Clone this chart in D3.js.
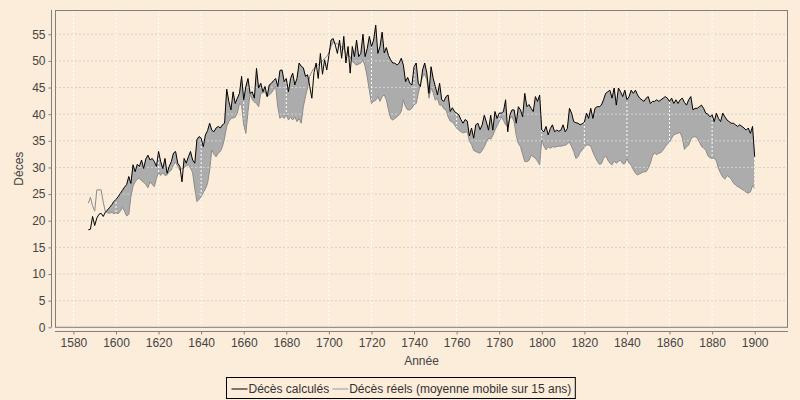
<!DOCTYPE html>
<html lang="fr">
<head>
<meta charset="UTF-8">
<title>Décès calculés et réels</title>
<script src="https://cdn.jsdelivr.net/npm/d3@7"></script>
<style>
  body { margin: 0; background: #fcecda; }
  svg { display: block; font-family: "Liberation Sans", Arial, sans-serif; }
  .axe path, .axe line { stroke: #808080; }
  .axe text { fill: #444; font-size: 12px; }
  .titre-axe { fill: #444; font-size: 12px; }
  .legende text { fill: #333; font-size: 12px; }
</style>
</head>
<body>
<svg id="graphique" width="800" height="400"></svg>
<script>
// années 1587 -> 1900, une valeur par an
const premiereAnnee = 1587;

const decesCalcules = [
  18.3, 18.4, 20.8, 19.1, 20.5, 21.2, 21.4, 20.8, 21.6, 22.0,
  22.5, 23.0, 23.6, 24.0, 24.5, 25.1, 25.7, 26.3, 26.8, 28.3,
  27.0, 30.5, 29.2, 30.6, 30.2, 31.4, 29.8, 31.6, 32.3, 31.4,
  31.7, 31.1, 30.2, 33.0, 31.1, 29.8, 31.7, 28.9, 30.2, 31.1,
  32.7, 33.0, 30.8, 30.2, 27.3, 31.7, 30.8, 32.0, 33.0, 31.4,
  30.8, 35.2, 35.8, 35.5, 33.9, 36.1, 36.9, 38.3, 37.0, 36.7,
  37.4, 37.7, 37.4, 38.0, 38.3, 44.7, 42.4, 40.8, 44.2, 42.0,
  43.0, 43.9, 47.1, 42.7, 45.2, 46.7, 43.9, 44.2, 43.0, 48.6,
  44.9, 45.8, 44.2, 45.2, 43.3, 45.5, 45.8, 46.3, 46.7, 45.2,
  48.2, 48.3, 46.1, 46.7, 44.2, 46.7, 47.7, 45.5, 46.7, 49.6,
  49.0, 48.7, 47.1, 47.4, 45.2, 43.0, 47.8, 49.6, 46.7, 51.4,
  47.5, 50.2, 48.3, 51.0, 53.9, 54.2, 53.0, 51.4, 53.9, 50.5,
  54.6, 49.6, 52.7, 47.7, 52.7, 50.8, 53.9, 50.8, 51.4, 55.0,
  50.8, 52.3, 54.6, 52.7, 53.9, 56.7, 51.4, 52.7, 55.4, 51.5,
  52.5, 51.0, 50.2, 49.6, 49.6, 49.2, 49.6, 50.5, 49.2, 46.1,
  46.9, 45.8, 45.5, 48.9, 49.6, 45.8, 45.2, 48.3, 49.6, 47.7,
  43.9, 48.9, 46.7, 45.2, 43.6, 45.8, 42.7, 42.4, 43.3, 43.6,
  40.5, 41.2, 40.5, 40.2, 39.9, 39.0, 38.3, 39.0, 38.7, 35.9,
  37.4, 35.5, 38.0, 38.3, 37.1, 38.0, 39.8, 38.5, 37.0, 39.8,
  37.0, 40.5, 39.2, 40.2, 40.2, 40.5, 42.7, 36.7, 39.8, 40.8,
  40.8, 38.3, 41.4, 40.8, 39.5, 43.9, 41.4, 41.8, 41.1, 40.5,
  43.3, 42.4, 43.6, 37.0, 36.7, 37.7, 36.1, 37.3, 38.0, 36.7,
  37.0, 36.8, 37.0, 38.0, 36.7, 37.3, 41.1, 40.2, 38.6, 38.4,
  38.3, 38.0, 38.2, 38.5, 40.2, 39.2, 41.1, 39.2, 41.1, 41.4,
  41.4, 41.7, 42.7, 43.9, 44.2, 44.5, 43.0, 44.9, 41.7, 44.9,
  44.2, 43.3, 44.5, 42.7, 43.3, 44.5, 43.9, 44.5, 43.6, 43.0,
  42.7, 42.4, 43.0, 43.3, 42.0, 42.4, 42.4, 42.7, 42.4, 42.7,
  43.0, 43.3, 43.0, 42.4, 43.0, 42.0, 42.7, 42.0, 42.7, 43.0,
  42.2, 41.7, 42.7, 43.3, 40.8, 41.1, 41.1, 41.4, 41.7, 41.1,
  40.2, 40.0, 39.5, 39.9, 38.6, 40.2, 39.2, 38.6, 40.2, 39.5,
  38.9, 38.6, 38.3, 38.3, 38.0, 37.7, 38.0, 37.7, 37.4, 37.0,
  37.4, 36.4, 37.7, 32.0
];

// moyenne mobile sur 15 ans
const decesReels = [
  23.3, 24.4, 22.8, 21.8, 25.8, 25.8, 25.8, 23.5, 21.7, 21.5,
  21.4, 21.6, 21.3, 21.5, 21.3, 21.8, 22.5, 21.8, 20.9, 21.2,
  24.5, 26.5, 27.3, 27.8, 28.0, 27.5, 27.2, 26.8, 26.2, 27.3,
  26.8, 26.4, 28.0, 29.0, 28.5, 29.0, 28.5, 28.6, 29.2, 29.5,
  30.5, 31.0, 30.2, 29.5, 29.8, 30.0, 30.3, 30.5, 29.9, 29.0,
  26.0, 23.6, 24.0, 24.5, 25.3, 26.0, 27.0, 29.5, 33.3, 32.5,
  32.0, 32.7, 33.0, 33.9, 35.5, 37.7, 38.6, 39.2, 39.3, 39.4,
  40.2, 42.0, 41.7, 38.0, 36.4, 40.5, 43.9, 42.7, 42.3, 42.0,
  41.4, 43.9, 44.0, 44.2, 43.3, 43.6, 44.0, 44.6, 45.2, 41.4,
  39.2, 39.6, 39.2, 39.9, 38.9, 39.5, 38.9, 39.5, 38.6, 39.2,
  38.3, 41.4, 43.3, 45.0, 47.1, 48.0, 48.6, 48.9, 49.3, 49.6,
  50.0, 50.5, 50.8, 51.5, 52.7, 53.5, 53.3, 53.2, 53.0, 52.6,
  52.2, 51.4, 51.0, 50.8, 49.9, 49.5, 49.2, 49.4, 49.6, 50.2,
  49.0, 47.0, 44.5, 42.0, 42.4, 42.6, 43.3, 42.4, 43.3, 43.6,
  42.7, 40.8, 39.2, 38.9, 39.2, 39.5, 39.9, 40.5, 42.7, 41.4,
  40.8, 40.8, 41.1, 41.8, 42.0, 43.9, 45.8, 47.0, 47.5, 46.5,
  43.0, 45.0, 44.0, 42.6, 43.0, 41.7, 41.7, 41.0, 40.8, 39.5,
  38.7, 38.5, 38.0, 37.4, 37.0, 36.7, 36.5, 36.6, 36.7, 35.0,
  34.3, 33.2, 33.0, 32.8, 32.7, 33.2, 33.9, 34.8, 35.5, 35.3,
  36.0, 37.0, 37.8, 38.6, 39.5, 38.8, 38.0, 37.7, 39.2, 39.5,
  38.6, 36.0, 34.5, 33.9, 32.5, 31.1, 31.1, 31.3, 32.3, 32.0,
  31.7, 31.2, 30.5, 35.2, 34.0, 33.3, 33.9, 33.6, 33.9, 33.8,
  33.9, 34.0, 34.0, 34.1, 34.2, 34.4, 34.8, 33.9, 33.0, 31.7,
  32.0, 32.8, 33.3, 33.8, 34.2, 34.2, 34.0, 32.9, 32.0, 31.2,
  30.6, 30.7, 31.7, 32.2, 31.4, 30.8, 30.5, 31.2, 30.8, 31.1,
  31.4, 30.7, 30.7, 31.7, 30.8, 30.4, 29.6, 28.9, 28.6, 28.8,
  29.0, 29.2, 29.2, 29.8, 30.8, 32.2, 32.7, 32.4, 32.7, 32.8,
  33.3, 33.9, 34.4, 34.8, 35.5, 36.1, 36.3, 36.4, 36.6, 35.5,
  33.4, 33.9, 34.2, 35.3, 35.7, 35.8, 35.5, 34.8, 34.0, 33.6,
  33.3, 32.2, 31.8, 31.7, 31.8, 31.2, 29.8, 28.9, 28.2, 27.8,
  28.5, 28.2, 27.8, 27.1, 26.7, 26.4, 26.2, 25.9, 25.7, 25.3,
  25.2, 25.4, 26.6, 26.1
];

const ticksAnnees = [1580, 1600, 1620, 1640, 1660, 1680, 1700, 1720,
  1740, 1760, 1780, 1800, 1820, 1840, 1860, 1880, 1900];
const ticksDeces = [0, 5, 10, 15, 20, 25, 30, 35, 40, 45, 50, 55];
const nomsSeries = ["Décès calculés", "Décès réels (moyenne mobile sur 15 ans)"];

const donnees = decesCalcules.map((v, i) => ({
  annee: premiereAnnee + i,
  calc: v,
  reel: decesReels[i]
}));

const gauche = 55, droite = 788, haut = 10, bas = 327.3;

const svg = d3.select("#graphique");

svg.append("rect")
  .attr("width", 800).attr("height", 400)
  .attr("fill", "#fcecda");

const x = d3.scaleLinear()
  .domain([1571.35, 1915.65])
  .range([gauche, droite]);

const y = d3.scaleLinear()
  .domain([0, 59.55])
  .range([bas, haut]);

// zone grise : seulement là où les décès calculés dépassent les réels
svg.append("clipPath").attr("id", "sous-calc")
  .append("path")
  .attr("d", d3.area()
    .x(d => x(d.annee))
    .y0(bas)
    .y1(d => y(d.calc))(donnees));

svg.append("path")
  .attr("clip-path", "url(#sous-calc)")
  .attr("fill", "#acacac")
  .attr("d", d3.area()
    .x(d => x(d.annee))
    .y0(haut)
    .y1(d => y(d.reel))(donnees));

// grilles
svg.append("g").selectAll("line")
  .data(ticksDeces)
  .join("line")
  .attr("x1", gauche).attr("x2", droite)
  .attr("y1", d => y(d)).attr("y2", d => y(d))
  .attr("stroke", "#d2d2d2")
  .attr("stroke-dasharray", "2,2");

svg.append("g").selectAll("line")
  .data(ticksAnnees)
  .join("line")
  .attr("x1", d => x(d)).attr("x2", d => x(d))
  .attr("y1", haut).attr("y2", bas)
  .attr("stroke", "#ffffff")
  .attr("stroke-dasharray", "2,2");

// séries
svg.append("path")
  .datum(donnees)
  .attr("fill", "none")
  .attr("stroke", "#8c8c8c")
  .attr("stroke-width", 1)
  .attr("d", d3.line().x(d => x(d.annee)).y(d => y(d.reel)));

svg.append("path")
  .datum(donnees)
  .attr("fill", "none")
  .attr("stroke", "#000")
  .attr("stroke-width", 1)
  .attr("d", d3.line().x(d => x(d.annee)).y(d => y(d.calc)));

// cadre
svg.append("rect")
  .attr("x", gauche + 0.5).attr("y", haut + 0.5)
  .attr("width", droite - gauche - 1).attr("height", bas - haut - 0.5)
  .attr("fill", "none")
  .attr("stroke", "#808080");

// axes
svg.append("g")
  .attr("class", "axe")
  .attr("transform", "translate(51.5,0)")
  .call(d3.axisLeft(y).tickValues(ticksDeces).tickSize(3).tickSizeOuter(0).tickPadding(3))
  .call(g => g.select(".domain").attr("d", `M0,${haut}V${bas}`));

svg.append("g")
  .attr("class", "axe")
  .attr("transform", "translate(0,331.5)")
  .call(d3.axisBottom(x).tickValues(ticksAnnees).tickFormat(d3.format("d"))
    .tickSize(3).tickSizeOuter(0).tickPadding(4))
  .call(g => g.select(".domain").attr("d", `M${gauche},0H${droite}`));

svg.selectAll(".axe text").attr("font-family", null).attr("font-size", null);

svg.append("text")
  .attr("class", "titre-axe")
  .attr("x", (gauche + droite) / 2).attr("y", 365)
  .attr("text-anchor", "middle")
  .text("Année");

svg.append("text")
  .attr("class", "titre-axe")
  .attr("transform", `translate(23,${(haut + bas) / 2}) rotate(-90)`)
  .attr("text-anchor", "middle")
  .text("Déces");

// légende
const couleurs = ["#000", "#999"];
const legende = svg.append("g").attr("class", "legende");
const cadreLeg = legende.append("rect")
  .attr("fill", "none").attr("stroke", "#000");

let curseur = 5;
const items = [];
nomsSeries.forEach((nom, i) => {
  const trait = legende.append("line")
    .attr("x1", curseur).attr("x2", curseur + 16)
    .attr("y1", 389).attr("y2", 389)
    .attr("stroke", couleurs[i]);
  const txt = legende.append("text")
    .attr("x", curseur + 17).attr("y", 393)
    .text(nom);
  curseur += 17 + txt.node().getComputedTextLength() + 3;
});
const largeurLeg = curseur + 1;
const decalage = Math.round(400 - largeurLeg / 2) + 0.5;
legende.attr("transform", `translate(${decalage},0)`);
cadreLeg.attr("x", 0).attr("y", 377.5)
  .attr("width", largeurLeg).attr("height", 21);
</script>
</body>
</html>
